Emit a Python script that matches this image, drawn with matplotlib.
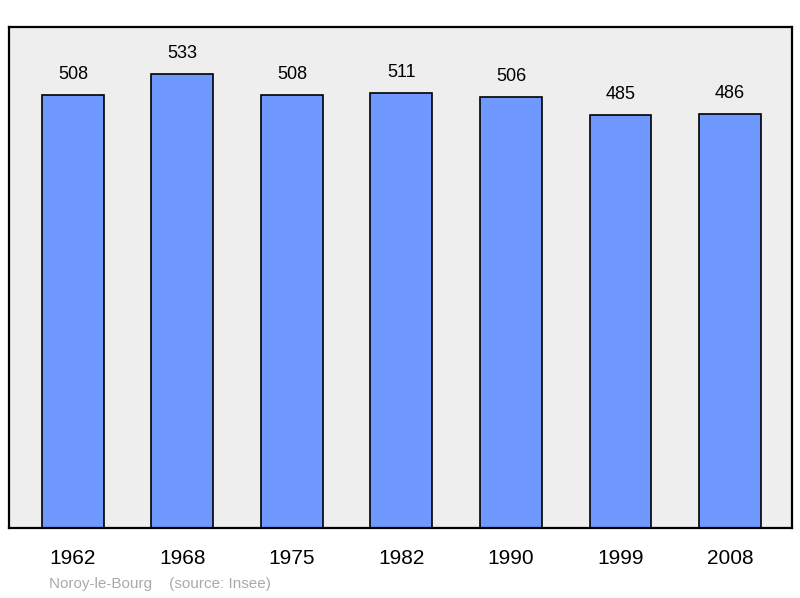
import matplotlib.pyplot as plt

years = ["1962", "1968", "1975", "1982", "1990", "1999", "2008"]
population = [508, 533, 508, 511, 506, 485, 486]

plt.rcParams['font.family'] = ['Liberation Sans', 'DejaVu Sans']

fig = plt.figure(figsize=(8, 5.98), dpi=100)
ax = fig.add_axes([9 / 800, 70 / 598, 783 / 800, 501 / 598])
ax.set_facecolor('#eeeeee')

x = list(range(len(years)))
ax.bar(x, population, width=0.566, color='#7099ff', edgecolor='black', linewidth=1.2)
for xi, v in zip(x, population):
    ax.text(xi, v + 14, str(v), ha='center', va='bottom', fontsize=13)

ax.set_xlim(-0.584, 6.566)
ax.set_ylim(0, 588)
ax.set_yticks([])
ax.set_xticks(x)
ax.set_xticklabels(years, fontsize=15)
ax.tick_params(axis='x', length=0, pad=15)
for s in ax.spines.values():
    s.set_linewidth(1.6)

fig.text(49 / 800, 1 - 584 / 598, "Noroy-le-Bourg    (source: Insee)",
         color='#aaaaaa', fontsize=11, va='center')

fig.savefig('out.png', dpi=100)
